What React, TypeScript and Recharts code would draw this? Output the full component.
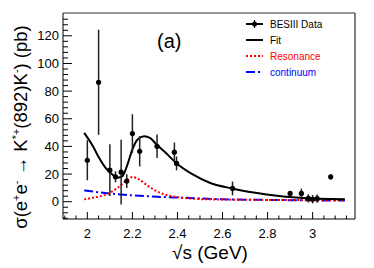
import React from 'react';
import { ComposedChart, Scatter, Line, XAxis, YAxis, ErrorBar, Legend, ReferenceLine } from 'recharts';

// BESIII measured points
const energies = [2.0, 2.05, 2.1, 2.125, 2.15, 2.175, 2.2, 2.2324, 2.3094, 2.3864, 2.396, 2.6444, 2.9, 2.95, 2.981, 3.0, 3.02, 3.08];
const xsec = [30, 86.4, 22.8, 18, 21.4, 14.9, 49.3, 36.5, 40.1, 35.8, 27.7, 9.6, 6, 6, 2.4, 1.8, 2.2, 18];
const xsecErr = [14.5, 38, 18.7, 4, 23.5, 5, 14, 11, 8.5, 7, 5, 5, 1.5, 3.5, 3, 3, 3, 2];

// fit curves
const fitX = [1.986, 2.025, 2.052, 2.081, 2.111, 2.134, 2.156, 2.178, 2.2, 2.223, 2.252, 2.278, 2.306, 2.35, 2.393, 2.468, 2.543, 2.647, 2.796, 2.94, 3.143];
const fitY = [49.8, 40.1, 31.8, 24.5, 19.7, 17.3, 18.5, 26.9, 37.8, 45, 47.4, 46.2, 41.6, 35, 28.2, 19.7, 13.7, 9.4, 5.3, 2.9, 1.8];
const resX = [1.986, 2.037, 2.096, 2.134, 2.171, 2.2, 2.23, 2.26, 2.28, 2.3, 2.32, 2.36, 2.422, 2.5, 2.7, 2.9, 3.143];
const resY = [1.7, 3.3, 6, 10.1, 14.9, 17.8, 16.1, 12.5, 10.3, 8.2, 6.6, 4.5, 2.9, 1.9, 1.4, 1.2, 1.0];
const contX = [1.986, 2.096, 2.185, 2.31, 2.422, 2.6, 2.8, 3.0, 3.143];
const contY = [8.2, 6.0, 4.8, 3.6, 2.9, 1.8, 1.3, 1.0, 0.8];

const xMajor = [2, 2.2, 2.4, 2.6, 2.8, 3];
const yMajor = [0, 20, 40, 60, 80, 100, 120];
const X_MIN = 1.892, X_MAX = 3.188;
const Y_MIN = -12.5, Y_MAX = 136.5;

const xTicks = Array.from({ length: 26 }, (_, i) => +(1.9 + i * 0.05).toFixed(2));
const yTicks = Array.from({ length: 37 }, (_, i) => -12 + i * 4);

const points = energies.map((x, i) => ({ x, y: xsec[i], err: xsecErr[i] }));
const fitData = fitX.map((x, i) => ({ x, y: fitY[i] }));
const resData = resX.map((x, i) => ({ x, y: resY[i] }));
const contData = contX.map((x, i) => ({ x, y: contY[i] }));

const FONT = '"Liberation Sans", Arial, Helvetica, sans-serif';

const XTick = (props: any) => {
  const { x, y, payload } = props;
  const v = payload.value;
  const major = xMajor.some(m => Math.abs(m - v) < 1e-6);
  return (
    <g>
      <line x1={x} x2={x} y1={y} y2={y - (major ? 7 : 3.5)} stroke="#000" />
      {major && (
        <text x={x} y={y + 19} textAnchor="middle" fontSize={13} fontFamily={FONT} fill="#000">
          {String(v)}
        </text>
      )}
    </g>
  );
};

const YTick = (props: any) => {
  const { x, y, payload } = props;
  const v = payload.value;
  const major = yMajor.includes(v);
  return (
    <g>
      <line x1={x} x2={x + (major ? 9 : 5)} y1={y} y2={y} stroke="#000" />
      {major && (
        <text x={x - 4} y={y + 4.5} textAnchor="end" fontSize={13} fontFamily={FONT} fill="#000">
          {v}
        </text>
      )}
    </g>
  );
};

const YTitle = () => (
  <text transform="translate(27,127) rotate(-90)" textAnchor="middle" fontSize={18.5} fontFamily={FONT} fill="#000">
    σ(e<tspan dy={-7} fontSize={11}>+</tspan><tspan dy={7}>e</tspan><tspan dy={-7} fontSize={11}>-</tspan>
    <tspan dy={7}> → K</tspan><tspan dy={-7} fontSize={11}>*+</tspan><tspan dy={7}>(892)K</tspan>
    <tspan dy={-7} fontSize={11}>-</tspan><tspan dy={7}>) (pb)</tspan>
  </text>
);

const LegendBox = () => {
  const rows = [
    { label: 'BESIII Data', color: '#000', dash: undefined, dot: true },
    { label: 'Fit', color: '#000', dash: undefined, dot: false },
    { label: 'Resonance', color: '#ff0000', dash: '2 2', dot: false },
    { label: 'continuum', color: '#0000ff', dash: '9 3 2 3', dot: false },
  ];
  return (
    <svg width={130} height={70}>
      {rows.map((r, i) => {
        const cy = 8 + i * 16;
        return (
          <g key={r.label}>
            <line x1={2} x2={19} y1={cy} y2={cy} stroke={r.color} strokeWidth={2} strokeDasharray={r.dash} />
            {r.dot && <line x1={10.5} x2={10.5} y1={cy - 4} y2={cy + 4} stroke="#000" strokeWidth={1.2} />}
            {r.dot && <circle cx={10.5} cy={cy} r={2.5} fill="#000" />}
            <text x={26} y={cy + 3.5} fontSize={10} fontFamily={FONT} fill={r.color}>
              {r.label}
            </text>
          </g>
        );
      })}
    </svg>
  );
};

export default function App() {
  return (
    <div style={{ position: 'absolute', left: 0, top: 0, width: 374, height: 268, background: '#fff' }}>
      <ComposedChart width={374} height={268} margin={{ top: 13, right: 19, bottom: 0, left: 0 }}>
        <XAxis
          type="number"
          dataKey="x"
          domain={[X_MIN, X_MAX]}
          ticks={xTicks}
          interval={0}
          allowDataOverflow
          height={49}
          tickSize={0}
          tickMargin={0}
          tickLine={false}
          tick={<XTick />}
          axisLine={{ stroke: '#000' }}
        />
        <YAxis
          type="number"
          domain={[Y_MIN, Y_MAX]}
          ticks={yTicks}
          interval={0}
          allowDataOverflow
          width={63}
          tickSize={0}
          tickMargin={0}
          tickLine={false}
          tick={<YTick />}
          axisLine={{ stroke: '#000' }}
          label={<YTitle />}
        />
        <ReferenceLine y={Y_MAX} stroke="#777" strokeWidth={1.5} />
        <ReferenceLine x={X_MAX} stroke="#555" strokeWidth={1.5} />
        <Line data={contData} dataKey="y" type="monotone" stroke="#0000ff" strokeWidth={2} strokeDasharray="9 3 2 3" dot={false} isAnimationActive={false} />
        <Line data={resData} dataKey="y" type="monotone" stroke="#ff0000" strokeWidth={2} strokeDasharray="2 2" dot={false} isAnimationActive={false} />
        <Line data={fitData} dataKey="y" type="monotone" stroke="#000" strokeWidth={2} dot={false} isAnimationActive={false} />
        <Scatter
          data={points}
          dataKey="y"
          isAnimationActive={false}
          shape={(p: any) => <circle cx={p.cx} cy={p.cy} r={2.6} fill="#000" />}
        >
          <ErrorBar dataKey="err" direction="y" width={0} stroke="#222" strokeWidth={1.5} />
        </Scatter>
        <Legend
          layout="vertical"
          align="center"
          verticalAlign="middle"
          content={<LegendBox />}
          wrapperStyle={{ position: 'absolute', left: 244, top: 16, width: 130, height: 70 }}
        />
      </ComposedChart>
      <div style={{ position: 'absolute', left: 157, top: 30, fontSize: 20, fontFamily: FONT, color: '#000' }}>(a)</div>
      <div style={{ position: 'absolute', left: 172, top: 242, fontSize: 19, fontFamily: FONT, color: '#000', whiteSpace: 'nowrap' }}>√s (GeV)</div>
    </div>
  );
}
